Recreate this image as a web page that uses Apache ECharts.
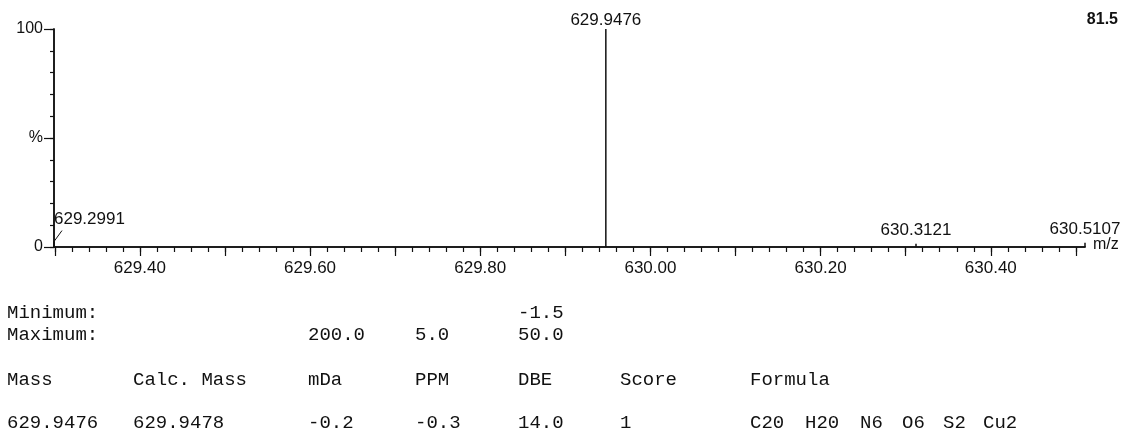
<!DOCTYPE html>
<html><head><meta charset="utf-8">
<script src="https://cdn.jsdelivr.net/npm/echarts@6/dist/echarts.min.js"></script>
<style>html,body{margin:0;padding:0;background:#fff}#c{width:1130px;height:434px}</style>
</head><body><div id="c"></div>
<script>
// ---- data ----
const peakMz = [629.2991, 629.9476, 630.3121, 630.5107];
const peakIntensity = [2.5, 100, 1.5, 2];
const peakLabels = ['629.2991', '629.9476', '630.3121', '630.5107'];
const xRange = [629.2991, 630.5107];
const xLabelValues = [629.40, 629.60, 629.80, 630.00, 630.20, 630.40];
const yLabelMap = {0: '0', 50: '%', 100: '100'};
const topRightLabel = '81.5';
const axisUnit = 'm/z';
const limitLabels = ['Minimum:', 'Maximum:'];
const limitMin = ['', '', '-1.5'];      // mDa, PPM, DBE
const limitMax = ['200.0', '5.0', '50.0'];
const headers = ['Mass', 'Calc. Mass', 'mDa', 'PPM', 'DBE', 'Score', 'Formula'];
const resultRow = ['629.9476', '629.9478', '-0.2', '-0.3', '14.0', '1'];
const formulaParts = ['C20', 'H20', 'N6', 'O6', 'S2', 'Cu2'];

// ---- ticks ----
const minorTicks = [], majorTicks = [];
for (let i = 0; i <= 60; i++) minorTicks.push((62930 + 2 * i) / 100);
for (let i = 0; i <= 12; i++) majorTicks.push((6293 + i) / 10);

const INK = '#111';
const sans = 'Liberation Sans, Arial, sans-serif';
const mono = 'Liberation Mono, Courier New, monospace';

// ---- layout for table ----
const colX = [7, 133, 308, 415, 518, 620, 750];
const formulaX = [750, 805, 860, 902, 943, 983];
const rowY = [313, 335, 380, 423];
const tfs = 19;

const graphics = [];
function T(x, y, s) {
  graphics.push({type: 'text', x: x, y: y, silent: true,
    style: {text: s, fill: INK, font: tfs + 'px ' + mono, textVerticalAlign: 'middle'}});
}
T(colX[0], rowY[0], limitLabels[0]);
T(colX[0], rowY[1], limitLabels[1]);
limitMin.forEach((v, i) => { if (v) T(colX[2 + i], rowY[0], v); });
limitMax.forEach((v, i) => { if (v) T(colX[2 + i], rowY[1], v); });
headers.forEach((h, i) => T(colX[i], rowY[2], h));
resultRow.forEach((v, i) => T(colX[i], rowY[3], v));
formulaParts.forEach((v, i) => T(formulaX[i], rowY[3], v));
// top-right intensity and unit
graphics.push({type: 'text', right: 12, top: 12, silent: true,
  style: {text: topRightLabel, fill: INK, font: 'bold 16px ' + sans}});
graphics.push({type: 'text', x: 1093, y: 245, silent: true,
  style: {text: axisUnit, fill: INK, font: '16px ' + sans, textVerticalAlign: 'middle'}});

const chart = echarts.init(document.getElementById('c'), null, {renderer: 'canvas'});
const grid = {left: 54, right: 45, top: 29, bottom: 187};
const baseX = {type: 'value', min: xRange[0], max: xRange[1], gridIndex: 0, position: 'bottom',
  splitLine: {show: false}, axisLine: {show: true, lineStyle: {color: INK, width: 1.5}}};
chart.setOption({
  animation: false,
  grid: grid,
  xAxis: [
    Object.assign({}, baseX, {
      axisTick: {show: true, length: 5, lineStyle: {color: INK, width: 1.2}, customValues: minorTicks},
      axisLabel: {show: false}
    }),
    Object.assign({}, baseX, {
      axisTick: {show: true, length: 9, lineStyle: {color: INK, width: 1.2}, customValues: majorTicks},
      axisLabel: {show: true, customValues: xLabelValues, margin: 13, color: INK,
        fontFamily: sans, fontSize: 17, formatter: v => v.toFixed(2)}
    })
  ],
  yAxis: [
    {type: 'value', min: 0, max: 100, interval: 10, position: 'left', splitLine: {show: false},
      axisLine: {show: true, lineStyle: {color: INK, width: 1.5}},
      axisTick: {show: true, length: 4, lineStyle: {color: INK, width: 1.2}},
      axisLabel: {show: false}},
    {type: 'value', min: 0, max: 100, interval: 50, position: 'left', splitLine: {show: false},
      axisLine: {show: true, lineStyle: {color: INK, width: 1.5}},
      axisTick: {show: true, length: 10, lineStyle: {color: INK, width: 1.2}},
      axisLabel: {show: true, margin: 11, color: INK, fontFamily: sans, fontSize: 16,
        formatter: v => (yLabelMap[v] !== undefined ? yLabelMap[v] : '')}}
  ],
  series: [{
    type: 'custom',
    xAxisIndex: 0, yAxisIndex: 0,
    clip: false,
    data: peakMz.map((m, i) => [m, peakIntensity[i]]),
    renderItem: function (params, api) {
      const i = params.dataIndex;
      const x = api.value(0), y = api.value(1);
      const p0 = api.coord([x, 0]), p1 = api.coord([x, y]);
      const ch = [{type: 'line', shape: {x1: p0[0], y1: p0[1], x2: p1[0], y2: p1[1]},
        style: {stroke: INK, lineWidth: 1.5}}];
      const f = '17px ' + sans;
      if (i === 0) {
        ch.push({type: 'line', shape: {x1: p1[0], y1: p1[1], x2: p1[0] + 8, y2: p1[1] - 11},
          style: {stroke: INK, lineWidth: 1}});
        ch.push({type: 'text', x: p1[0], y: p1[1] - 22,
          style: {text: peakLabels[i], fill: INK, font: f, textAlign: 'left', textVerticalAlign: 'middle'}});
      } else {
        ch.push({type: 'text', x: p1[0], y: p1[1] - (i === 1 ? 9 : 13),
          style: {text: peakLabels[i], fill: INK, font: f, textAlign: 'center', textVerticalAlign: 'middle'}});
      }
      return {type: 'group', children: ch};
    }
  }],
  graphic: graphics
});
</script></body></html>
